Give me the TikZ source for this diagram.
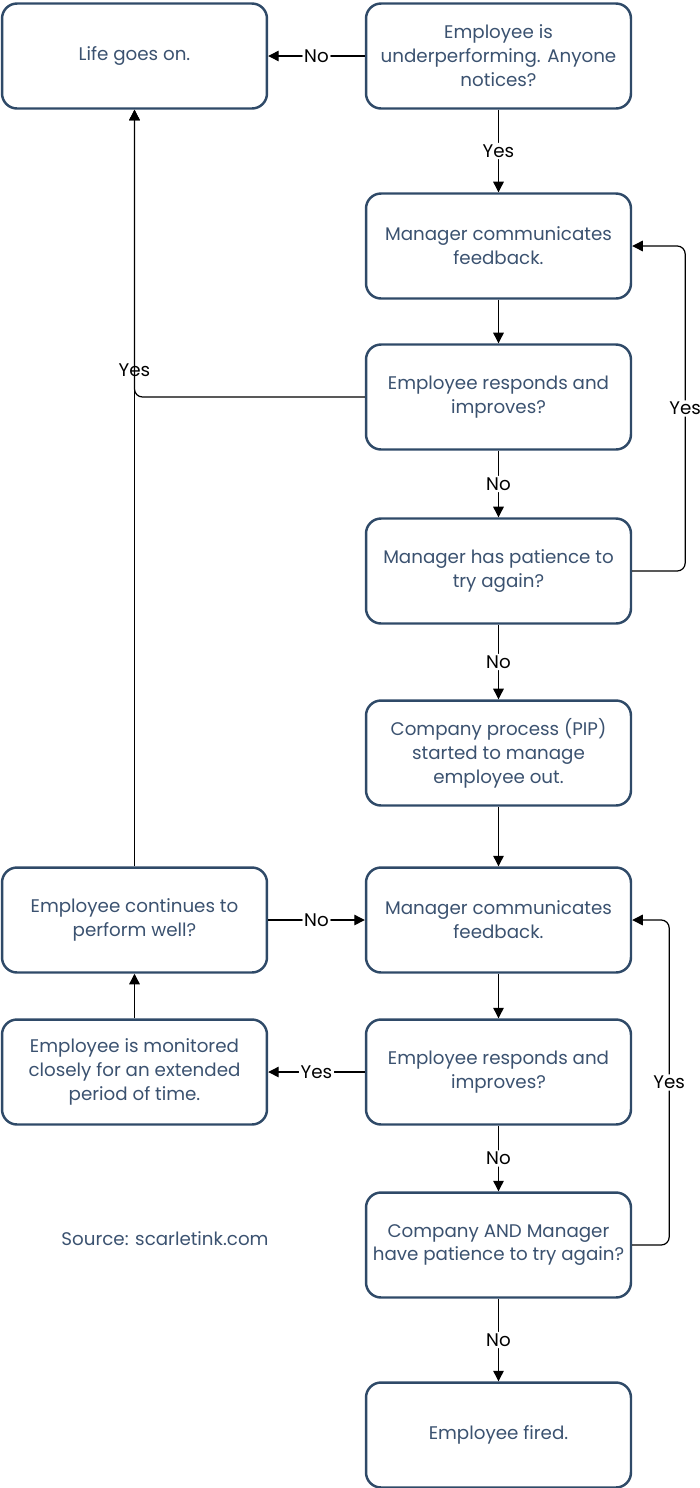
\documentclass[tikz,border=0pt]{standalone}
\usepackage{fontspec}
\setmainfont{Poppins}
\usetikzlibrary{arrows.meta}

\definecolor{boxblue}{HTML}{2F4A68}
\definecolor{txtblue}{HTML}{3B5270}

\begin{document}
\begin{tikzpicture}[x=0.02cm,y=-0.02cm,
  box/.style={draw=boxblue,line width=1.4pt,rounded corners=0.3cm,fill=white,
    minimum width=5.3cm,minimum height=2.1cm,align=center,text=txtblue,
    font=\fontsize{10.4}{13.6}\selectfont,inner sep=0pt},
  link/.style={line width=0.7pt,rounded corners=0.16cm,-{Triangle[length=6pt,width=6pt]}},
  lbl/.style={fill=white,inner sep=1pt,font=\fontsize{10.4}{13.6}\selectfont}]
  \useasboundingbox (0,0) rectangle (700,1488);

  %left column
  \node[box] (life) at (134.5,56) {Life goes on.};
  \node[box] (cont) at (134.5,920) {Employee continues to\\perform well?};
  \node[box] (mon) at (134.5,1072) {Employee is monitored\\closely for an extended\\period of time.};
  \node[text=txtblue,font=\fontsize{10.4}{13.6}\selectfont] (src) at (165,1239) {Source: scarletink.com};

  %right column
  \node[box] (notice) at (498.5,56) {Employee is\\underperforming. Anyone\\notices?};
  \node[box] (fb1) at (498.5,246) {Manager communicates\\feedback.};
  \node[box] (resp1) at (498.5,397) {Employee responds and\\improves?};
  \node[box] (pat1) at (498.5,571) {Manager has patience to\\try again?};
  \node[box] (pip) at (498.5,753) {Company process (PIP)\\started to manage\\employee out.};
  \node[box] (fb2) at (498.5,920) {Manager communicates\\feedback.};
  \node[box] (resp2) at (498.5,1072) {Employee responds and\\improves?};
  \node[box] (pat2) at (498.5,1245) {Company AND Manager\\have patience to try again?};
  \node[box] (fired) at (498.5,1435) {Employee fired.};

  %first round
  \draw[link] (notice) -- node[lbl] {No} (life);
  \draw[link] (notice) -- node[lbl] {Yes} (fb1);
  \draw[link] (fb1) -- (resp1);
  \draw[link] (resp1.west) -| node[pos=0.547,inner sep=0pt,font=\fontsize{10.4}{13.6}\selectfont] {Yes} (life.south);
  \draw[link] (resp1) -- node[lbl] {No} (pat1);
  \draw[link] (pat1.east) -- ++(53,0) |- node[lbl,pos=0.25] {Yes} (fb1.east);
  \draw[link] (pat1) -- node[lbl] {No} (pip);
  \draw[link] (pip) -- (fb2);

  %second round
  \draw[link] (cont) -- (life);
  \draw[link] (cont) -- node[lbl] {No} (fb2);
  \draw[link] (fb2) -- (resp2);
  \draw[link] (resp2) -- node[lbl] {Yes} (mon);
  \draw[link] (mon) -- (cont);
  \draw[link] (resp2) -- node[lbl] {No} (pat2);
  \draw[link] (pat2.east) -- ++(37,0) |- node[lbl,pos=0.25] {Yes} (fb2.east);
  \draw[link] (pat2) -- node[lbl] {No} (fired);
\end{tikzpicture}
\end{document}
